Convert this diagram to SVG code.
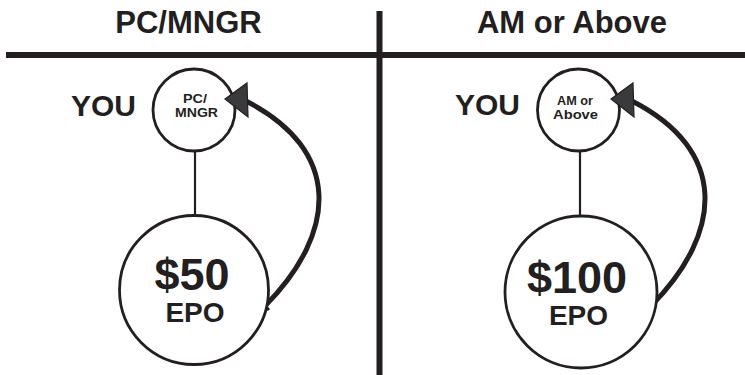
<svg xmlns="http://www.w3.org/2000/svg" width="745" height="375" viewBox="0 0 745 375">
  <style>
    text { font-family: "Liberation Sans", Arial, sans-serif; font-weight: bold; fill: #231f20; text-anchor: middle; }
    .hdr { font-size: 31px; }
    .you { font-size: 30px; }
    .small { font-size: 13px; }
    .amt { font-size: 45px; }
    .epo { font-size: 28px; }
    .circ { fill: #ffffff; stroke: #231f20; stroke-width: 2.8; }
    .link { stroke: #231f20; stroke-width: 2.2; fill: none; }
    .rule { stroke: #231f20; stroke-width: 6; fill: none; }
    .curve { stroke: #231f20; stroke-width: 5; fill: none; stroke-linecap: butt; }
    .tick { stroke: #231f20; stroke-width: 3; fill: none; }
    .head { fill: #3a3a3d; stroke: #231f20; stroke-width: 1.2; stroke-linejoin: miter; }
  </style>
  <defs>
    <g id="returnArrow">
      <path class="curve" d="M 265 306 C 338 232, 342 150, 246 101"/>
      <path class="tick" d="M 261 302 L 269 310"/>
    </g>
  </defs>

  <rect x="0" y="0" width="745" height="375" fill="#ffffff"/>

  <g id="dividers">
    <line class="rule" x1="6" y1="55" x2="745" y2="55"/>
    <line class="rule" x1="379.5" y1="11" x2="379.5" y2="375"/>
  </g>

  <g id="header-left"><text class="hdr" x="188.5" y="33">PC/MNGR</text></g>
  <g id="header-right"><text class="hdr" x="572" y="33">AM or Above</text></g>

  <g id="connectors">
    <line class="link" x1="195" y1="151" x2="195" y2="215"/>
    <line class="link" x1="580" y1="151" x2="580" y2="217"/>
    <use href="#returnArrow"/>
    <use href="#returnArrow" transform="translate(386,0)"/>
  </g>

  <g id="you-left"><text class="you" x="103.5" y="116">YOU</text></g>
  <g id="you-right"><text class="you" x="487.5" y="115">YOU</text></g>

  <g id="node-pcmngr">
    <circle class="circ" cx="194" cy="110" r="41"/>
    <text class="small" x="195" y="102.5" textLength="24" lengthAdjust="spacingAndGlyphs">PC/</text>
    <text class="small" x="196.5" y="117" textLength="43" lengthAdjust="spacingAndGlyphs">MNGR</text>
  </g>

  <g id="node-epo50">
    <circle class="circ" cx="194" cy="290" r="74.5"/>
    <text class="amt" x="192" y="290">$50</text>
    <text class="epo" x="195" y="322">EPO</text>
  </g>

  <g id="node-amabove">
    <circle class="circ" cx="578.5" cy="110" r="41"/>
    <text class="small" x="575" y="104.5" textLength="36" lengthAdjust="spacingAndGlyphs">AM or</text>
    <text class="small" x="575.5" y="119" textLength="45" lengthAdjust="spacingAndGlyphs">Above</text>
  </g>

  <g id="node-epo100">
    <circle class="circ" cx="581" cy="292" r="76"/>
    <text class="amt" x="577" y="293">$100</text>
    <text class="epo" x="578.5" y="325">EPO</text>
  </g>

  <g id="arrowheads">
    <polygon class="head" points="225,99 247,83 248,117"/>
    <polygon class="head" points="611,99 633,83 634,117"/>
  </g>
</svg>
